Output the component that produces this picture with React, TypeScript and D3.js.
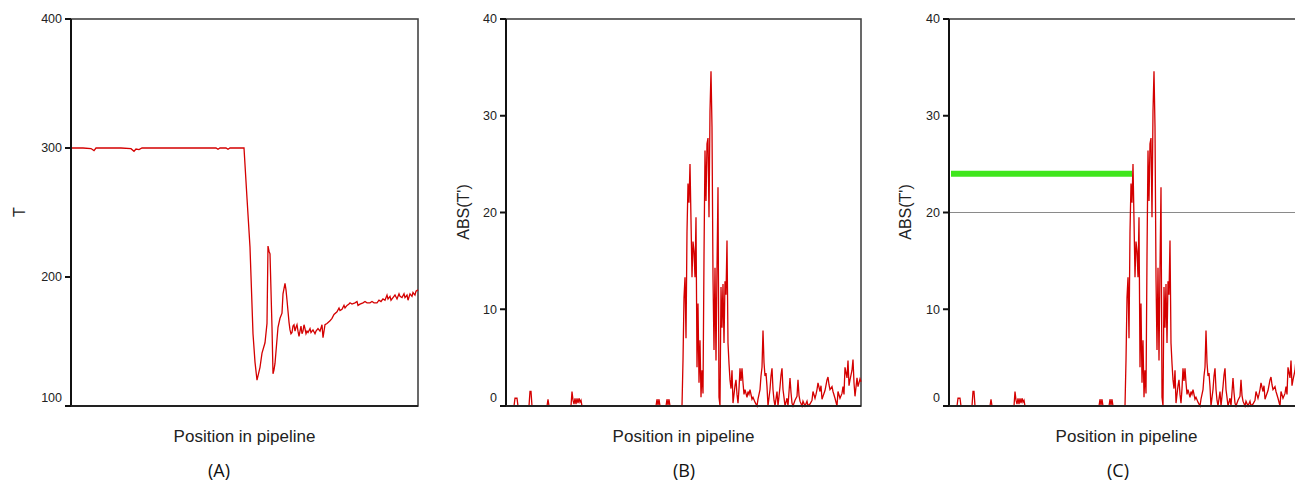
import React, { useEffect, useRef } from "react"
import * as d3 from "d3"

// Panel A : temperature along the pipeline
const posA = [0, 12, 20, 23, 25, 50, 60, 63, 65, 68, 71, 110, 145, 147, 149, 155, 157, 159, 172, 173, 176, 179, 182, 184, 186, 189, 191, 194, 196, 197, 198, 199, 201, 202, 203, 204, 207, 209, 211, 212, 214, 215, 216, 218, 219, 220, 221, 222, 223, 224, 225, 226, 227, 228, 229, 230, 231, 232, 233, 234, 235, 236, 237, 239, 240, 242, 244, 245, 247, 249, 251, 252, 254, 256, 259, 261, 263, 266, 268, 269, 271, 273, 274, 276, 278, 279, 281, 284, 286, 287, 289, 292, 294, 296, 299, 301, 303, 306, 308, 310, 312, 314, 316, 317, 319, 320, 322, 324, 326, 328, 329, 331, 333, 334, 336, 337, 339, 341, 342, 344, 345, 347]
const tempA = [300, 300, 299.6, 298, 300, 300, 299.5, 297.5, 299.2, 298.8, 300, 300, 300, 299, 300, 300, 299, 300, 300, 300, 261, 223, 156, 134, 120, 130, 141, 149, 164, 224, 220, 218, 161, 125, 128, 133, 161, 168, 172, 187, 195, 190, 182, 165, 159, 156, 157, 162, 163, 158, 161, 163, 158, 154, 158, 162, 156, 158, 163, 160, 156, 158, 157, 160, 157, 159, 156, 158, 160, 158, 163, 153, 163, 164, 166, 168, 171, 173, 176, 174, 175, 178, 176, 178, 179, 180, 179, 180, 181, 178, 179, 180, 181, 180, 180, 181, 180, 180, 182, 181, 183, 182, 186, 183, 185, 182, 184, 186, 183, 187, 185, 184, 187, 184, 186, 182, 187, 185, 188, 186, 189, 190]

// Panels B and C : ABS(T')
const posB = [0, 8, 9, 11, 12, 23, 24, 25, 26, 41, 42, 43, 65, 66, 67, 68, 69, 70, 71, 72, 73, 74, 75, 76, 150, 151, 152, 153, 154, 160, 161, 162, 163, 164, 176, 177, 178, 179, 180, 181, 182, 183, 184, 185, 186, 187, 188, 189, 190, 191, 192, 193, 194, 195, 196, 197, 198, 199, 200, 201, 202, 203, 204, 205, 206, 207, 208, 209, 210, 211, 212, 213, 214, 215, 216, 217, 218, 219, 220, 221, 222, 223, 224, 225, 226, 227, 229, 230, 231, 232, 233, 234, 235, 236, 237, 238, 239, 241, 242, 243, 244, 246, 247, 249, 251, 252, 254, 255, 256, 257, 258, 259, 260, 261, 262, 264, 265, 266, 267, 268, 269, 271, 272, 274, 275, 276, 277, 278, 279, 281, 282, 284, 285, 286, 287, 289, 291, 292, 293, 294, 296, 297, 299, 301, 302, 304, 306, 307, 309, 310, 311, 312, 314, 315, 316, 317, 319, 321, 322, 323, 324, 326, 327, 329, 331, 332, 334, 336, 337, 338, 339, 341, 342, 343, 344, 346, 347, 348, 349, 351, 352, 354, 355]
const absB = [0, 0, 0.8, 0.8, 0, 0, 1.5, 1.5, 0, 0, 0.7, 0, 0, 1.5, 0.6, 0.2, 0.8, 0.2, 0.8, 0.3, 0.8, 0.4, 0.6, 0, 0, 0.7, 0.1, 0.7, 0, 0, 0.7, 0.1, 0.7, 0, 0, 4.7, 11.2, 13.3, 7, 18, 23, 21, 25, 19.2, 13.3, 17, 16, 13.3, 19.5, 4, 10.6, 2.4, 6.8, 0.9, 3.7, 1.3, 15.4, 26.4, 21.2, 27.1, 27.7, 19.5, 30.5, 34.6, 28.8, 13.3, 5.8, 14.3, 4.7, 14.3, 22.6, 0.9, 0, 12.3, 8.1, 12.6, 6.5, 12.9, 11.5, 17.1, 6.5, 4.4, 2.7, 1.8, 3.7, 0.3, 2.1, 2.7, 1.2, 0.3, 1.8, 3.9, 2.6, 3.9, 2.4, 1.2, 1.7, 0.9, 1.5, 1.2, 1.7, 0.7, 0.9, 0.4, 0, 0.7, 1.7, 3.1, 4, 7.8, 4.5, 3.1, 3.4, 2, 0, 1.7, 3.1, 3.9, 1.7, 0.6, 0, 1.5, 0, 2, 3.2, 3.9, 1.7, 0.9, 0, 0.8, 0, 2.9, 1.4, 0.3, 0, 0.6, 1, 2.7, 1.1, 0.5, 0, 0.5, 0, 0.5, 0, 0.2, 0.6, 1.5, 0.8, 1.2, 1.7, 2.4, 1.5, 2.1, 0.7, 1, 1.6, 2.7, 3, 2.2, 1.7, 2, 1.5, 0.8, 0, 1.5, 0.8, 1.3, 2, 1.2, 4, 2.9, 4.7, 2.1, 2.7, 3.7, 4.8, 2.4, 1, 2.9, 2, 2.8, 2.5]

const ticksA = [100, 200, 300, 400]
const ticksB = [0, 10, 20, 30, 40]
const thresholdC = 20
const markerC = { from: 0, to: 183, level: 24 }

type Panel = {
	left: number
	right: number
	xMax: number
	yDomain: [number, number]
	ticks: number[]
	xs: number[]
	ys: number[]
	yLabel: string
	yLabelX: number
	caption: string
	captionX: number
	threshold?: number
	marker?: { from: number; to: number; level: number }
}

const top = 19
const bottom = 406

const drawPanel = (svg: any, p: Panel) => {
	const x = d3.scaleLinear().domain([0, p.xMax]).range([p.left, p.right])
	const y = d3.scaleLinear().domain(p.yDomain).range([bottom, top])
	const g = svg.append("g")

	// frame
	g.append("rect")
		.attr("x", p.left)
		.attr("y", top)
		.attr("width", p.right - p.left)
		.attr("height", bottom - top)
		.attr("fill", "none")
		.attr("stroke", "#444")
		.attr("stroke-width", 1.6)

	if (p.threshold !== undefined) {
		g.append("line")
			.attr("x1", p.left)
			.attr("x2", p.right)
			.attr("y1", y(p.threshold))
			.attr("y2", y(p.threshold))
			.attr("stroke", "#8a8a8a")
			.attr("stroke-width", 1)
	}

	const line = d3
		.line<number>()
		.x((_, i) => x(p.xs[i]))
		.y(d => y(d))

	g.append("path")
		.datum(p.ys)
		.attr("fill", "none")
		.attr("stroke", "#d40000")
		.attr("stroke-width", 1.3)
		.attr("d", line)

	if (p.marker) {
		g.append("line")
			.attr("x1", x(p.marker.from) + 2)
			.attr("x2", x(p.marker.to))
			.attr("y1", y(p.marker.level))
			.attr("y2", y(p.marker.level))
			.attr("stroke", "#3fe61c")
			.attr("stroke-width", 6)
	}

	// left & bottom axes
	g.append("line")
		.attr("x1", p.left).attr("x2", p.left)
		.attr("y1", top).attr("y2", bottom)
		.attr("stroke", "#111").attr("stroke-width", 2)
	g.append("line")
		.attr("x1", p.left).attr("x2", p.right)
		.attr("y1", bottom).attr("y2", bottom)
		.attr("stroke", "#222").attr("stroke-width", 2)

	p.ticks.forEach((t, i) => {
		g.append("line")
			.attr("x1", p.left - 6).attr("x2", p.left)
			.attr("y1", y(t)).attr("y2", y(t))
			.attr("stroke", "#111").attr("stroke-width", 2)
		g.append("text")
			.attr("x", p.left - 9)
			.attr("y", y(t) - (i === 0 ? 8 : 0))
			.attr("dy", "0.35em")
			.attr("text-anchor", "end")
			.style("font-family", "'Liberation Sans', Arial, sans-serif")
			.style("font-size", "12.5px")
			.style("fill", "#222")
			.text(t)
	})

	g.append("text")
		.attr("transform", `translate(${p.yLabelX}, 212) rotate(-90)`)
		.attr("text-anchor", "middle")
		.attr("dy", "0.35em")
		.style("font-family", "'Liberation Sans', Arial, sans-serif")
		.style("font-size", "16px")
		.style("fill", "#222")
		.text(p.yLabel)

	g.append("text")
		.attr("x", (p.left + p.right) / 2)
		.attr("y", 442)
		.attr("text-anchor", "middle")
		.style("font-family", "'Liberation Sans', Arial, sans-serif")
		.style("font-size", "17px")
		.style("fill", "#222")
		.text("Position in pipeline")

	g.append("text")
		.attr("x", p.captionX)
		.attr("y", 477)
		.attr("text-anchor", "middle")
		.style("font-family", "'Open Sans', 'Noto Sans', sans-serif")
		.style("font-size", "18px")
		.style("font-weight", 500)
		.style("fill", "#111")
		.text(p.caption)
}

const App = () => {
	const ref = useRef<SVGSVGElement>(null)

	useEffect(() => {
		const svg = d3.select(ref.current)
		svg.selectAll("*").remove()

		svg.append("rect").attr("width", 1295).attr("height", 481).attr("fill", "#fff")

		drawPanel(svg, {
			left: 71, right: 418, xMax: 347, yDomain: [100, 400], ticks: ticksA,
			xs: posA, ys: tempA, yLabel: "T", yLabelX: 19, caption: "(A)", captionX: 219,
		})
		drawPanel(svg, {
			left: 506, right: 861, xMax: 355, yDomain: [0, 40], ticks: ticksB,
			xs: posB, ys: absB, yLabel: "ABS(T')", yLabelX: 463, caption: "(B)", captionX: 684,
		})
		drawPanel(svg, {
			left: 949, right: 1304, xMax: 355, yDomain: [0, 40], ticks: ticksB,
			xs: posB, ys: absB, yLabel: "ABS(T')", yLabelX: 905, caption: "(C)", captionX: 1118,
			threshold: thresholdC, marker: markerC,
		})
	}, [])

	return (
		<svg
			ref={ref}
			width={1295}
			height={481}
			style={{ position: "absolute", left: 0, top: 0, display: "block" }}
		/>
	)
}

export default App
